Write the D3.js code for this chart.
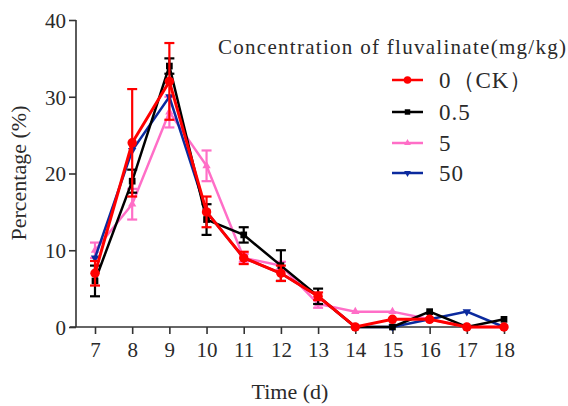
<!DOCTYPE html>
<html>
<head>
<meta charset="utf-8">
<script src="https://cdn.jsdelivr.net/npm/d3@7"></script>
<style>
  body { margin: 0; background: #fff; }
  text { font-family: "Liberation Serif", serif; fill: #2a2a2a; }
</style>
</head>
<body>
<svg width="568" height="406"></svg>
<script>
var days = [7, 8, 9, 10, 11, 12, 13, 14, 15, 16, 17, 18];
var yTicks = [0, 10, 20, 30, 40];

var seriesNames = ["0（CK）", "0.5", "5", "50"];
var seriesColors = ["#ff0000", "#000000", "#ff6ec7", "#0b2a9e"];
var seriesSymbols = [d3.symbolCircle, d3.symbolSquare, d3.symbolTriangle, d3.symbolTriangle];

var ck = [7, 24, 32, 15, 9, 7, 4, 0, 1, 1, 0, 0];
var ckErr = [1.6, 7, 5, 2, 0.8, 1, 0.5, 0, 0, 0, 0, 0];
var c05 = [6, 19, 34, 14, 12, 8, 4, 0, 0, 2, 0, 1];
var c05Err = [2, 1.5, 1, 2, 1, 2, 1, 0, 0, 0, 0, 0];
var c5 = [10, 16, 28, 21, 9, 8, 3, 2, 2, 1, 0, 0];
var c5Err = [1, 2, 2, 2, 0.5, 0.5, 0.5, 0, 0, 0, 0, 0];
var c50 = [9, 23, 30, 15, 9, 7, 4, 0, 0, 1, 2, 0];
var c50Err = [0, 0, 0, 0, 0, 0, 0, 0, 0, 0, 0, 0];

var allValues = [ck, c05, c5, c50];
var allErrors = [ckErr, c05Err, c5Err, c50Err];

var svg = d3.select("svg");

var x = d3.scaleLinear().domain([7, 18]).range([95, 504]);
var y = d3.scaleLinear().domain([0, 40]).range([327, 20]);

// axes
var yAxis = svg.append("g")
    .attr("transform", "translate(76,0)")
    .call(d3.axisLeft(y).tickValues(yTicks).tickSize(7).tickSizeOuter(0));
var xAxis = svg.append("g")
    .attr("transform", "translate(0,327)")
    .call(d3.axisBottom(x).tickValues(days).tickSize(7).tickSizeOuter(0));

yAxis.select(".domain").attr("d", "M0,20V327");
xAxis.select(".domain").attr("d", "M70,0H504");

[yAxis, xAxis].forEach(function(a) {
  a.attr("font-family", null);
  a.selectAll("line, path").attr("stroke", "#333").attr("stroke-width", 1.6);
  a.selectAll("text").attr("font-size", 21).attr("fill", "#2a2a2a");
});
yAxis.selectAll("text").attr("x", -10).attr("dy", "0.35em");
xAxis.selectAll("text").attr("y", 15);

svg.append("text")
    .attr("x", 290).attr("y", 399)
    .attr("text-anchor", "middle")
    .attr("font-size", 22)
    .text("Time (d)");

svg.append("text")
    .attr("transform", "translate(26,173) rotate(-90)")
    .attr("text-anchor", "middle")
    .attr("font-size", 22)
    .text("Percentage (%)");

// series, drawn with red on top
var order = [2, 3, 1, 0];
var line = d3.line()
    .x(function(d, i) { return x(days[i]); })
    .y(function(d) { return y(d); });

order.forEach(function(s) {
  var g = svg.append("g");
  var col = seriesColors[s];
  var vals = allValues[s];
  var errs = allErrors[s];

  g.append("path")
      .datum(vals)
      .attr("fill", "none")
      .attr("stroke", col)
      .attr("stroke-width", s == 0 ? 3 : 2.5)
      .attr("d", line);

  var eb = g.selectAll(".err")
      .data(vals.map(function(v, i) { return {v: v, e: errs[i], d: days[i]}; })
        .filter(function(p) { return p.e > 0; }))
      .enter().append("g")
      .attr("stroke", col)
      .attr("stroke-width", 2.2);
  eb.append("line")
      .attr("x1", function(p) { return x(p.d); })
      .attr("x2", function(p) { return x(p.d); })
      .attr("y1", function(p) { return y(p.v - p.e); })
      .attr("y2", function(p) { return y(p.v + p.e); });
  eb.append("line")
      .attr("x1", function(p) { return x(p.d) - 5; })
      .attr("x2", function(p) { return x(p.d) + 5; })
      .attr("y1", function(p) { return y(p.v + p.e); })
      .attr("y2", function(p) { return y(p.v + p.e); });
  eb.append("line")
      .attr("x1", function(p) { return x(p.d) - 5; })
      .attr("x2", function(p) { return x(p.d) + 5; })
      .attr("y1", function(p) { return y(p.v - p.e); })
      .attr("y2", function(p) { return y(p.v - p.e); });

  var size = [70, 45, 30, 30][s];
  g.selectAll(".mk")
      .data(vals)
      .enter().append("path")
      .attr("d", d3.symbol().type(seriesSymbols[s]).size(size))
      .attr("transform", function(d, i) {
        return "translate(" + x(days[i]) + "," + y(d) + ")" + (s == 3 ? " rotate(180)" : "");
      })
      .attr("fill", col);
});

// legend
svg.append("text")
    .attr("x", 218).attr("y", 54)
    .attr("font-size", 21)
    .attr("textLength", 348)
    .text("Concentration of fluvalinate(mg/kg)");

var legendRows = [80, 112, 143, 173];
var lg = svg.selectAll(".lg")
    .data(seriesNames)
    .enter().append("g")
    .attr("transform", function(d, i) { return "translate(0," + legendRows[i] + ")"; });
lg.append("line")
    .attr("x1", 392).attr("x2", 423)
    .attr("stroke", function(d, i) { return seriesColors[i]; })
    .attr("stroke-width", 2.5);
lg.append("path")
    .attr("d", function(d, i) { return d3.symbol().type(seriesSymbols[i]).size([45, 30, 20, 20][i])(); })
    .attr("transform", function(d, i) { return "translate(407.5,0)" + (i == 3 ? " rotate(180)" : ""); })
    .attr("fill", function(d, i) { return seriesColors[i]; });
lg.append("text")
    .attr("x", 439).attr("dy", "0.35em")
    .attr("font-size", 23)
    .attr("letter-spacing", 1)
    .text(function(d) { return d; });
</script>
</body>
</html>
